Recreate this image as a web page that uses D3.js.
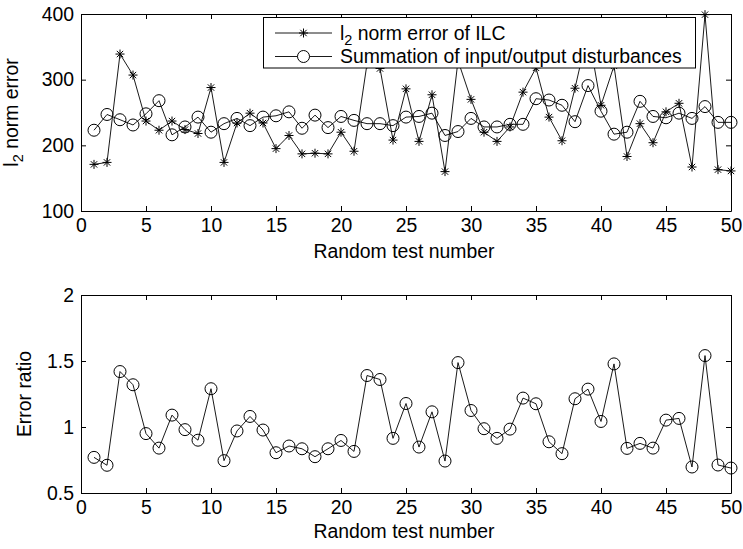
<!DOCTYPE html>
<html>
<head>
<meta charset="utf-8">
<script src="https://cdnjs.cloudflare.com/ajax/libs/d3/7.8.5/d3.min.js"></script>
<style>
  html, body { margin: 0; padding: 0; background: #fff; }
  svg { display: block; }
  text { font-family: "Liberation Sans", Arial, Helvetica, sans-serif; fill: #000; }
</style>
</head>
<body>
<script>
// ---------- data ----------
const testNumbers = d3.range(1, 51);
const ilcError = [171, 174, 339, 307, 237, 223, 237, 224, 218, 288,
                  174, 234, 249, 234, 195, 215, 187, 188, 187, 220,
                  191, 324, 317, 208, 286, 206, 277, 160, 329, 270,
                  220, 206, 228, 281, 318, 243, 207, 287, 374, 261,
                  321, 183, 233, 204, 251, 264, 167, 399, 163, 161];
const disturbanceSum = [223, 247, 239, 231, 248, 268, 216, 228, 243, 220,
                        233, 241, 230, 243, 245, 251, 226, 246, 227, 244,
                        238, 233, 233, 230, 243, 244, 249, 215, 221, 241,
                        228, 228, 232, 232, 271, 269, 261, 236, 291, 252,
                        217, 220, 267, 244, 242, 249, 241, 259, 235, 235];
const errorRatio = [0.77, 0.71, 1.42, 1.32, 0.95, 0.84, 1.09, 0.98, 0.90, 1.29,
                    0.745, 0.97, 1.08, 0.977, 0.805, 0.856, 0.835, 0.775, 0.835, 0.898,
                    0.815, 1.39, 1.36, 0.914, 1.178, 0.848, 1.115, 0.742, 1.488, 1.125,
                    0.987, 0.914, 0.984, 1.219, 1.176, 0.888, 0.798, 1.214, 1.287, 1.042,
                    1.478, 0.838, 0.876, 0.840, 1.052, 1.065, 0.697, 1.541, 0.712, 0.689];
const xTicks = [0, 5, 10, 15, 20, 25, 30, 35, 40, 45, 50];
const topYTicks = [100, 200, 300, 400];
const bottomYTicks = [0.5, 1, 1.5, 2];
const bottomYTickLabels = ["0.5", "1", "1.5", "2"];
const xLabel = "Random test number";
const legendLabels = ["norm error of ILC", "Summation of input/output disturbances"];

// ---------- layout ----------
const W = 743, H = 549;
const FS = 19.4;
const svg = d3.select("body").append("svg").attr("width", W).attr("height", H);

const x = d3.scaleLinear().domain([0, 50]).range([81, 731]);
const yTop = d3.scaleLinear().domain([100, 400]).range([211, 14]);
const yBot = d3.scaleLinear().domain([0.5, 2]).range([493, 295]);

function drawAxes(y, yTicks, yFmt) {
  const [y0, y1] = y.range();
  const g = svg.append("g");
  const style = sel => {
    sel.selectAll("path.domain").attr("stroke", "#000").attr("stroke-width", 1);
    sel.selectAll(".tick line").attr("stroke", "#000").attr("stroke-width", 1);
    sel.selectAll("text").style("font-size", FS + "px").attr("fill", "#000")
       .style("font-family", '"Liberation Sans", Arial, sans-serif');
  };
  g.append("g").attr("transform", `translate(0,${y0})`)
    .call(d3.axisBottom(x).tickValues(xTicks).tickSizeInner(-5).tickSizeOuter(0).tickPadding(7.5))
    .call(style);
  g.append("g").attr("transform", `translate(0,${y1})`)
    .call(d3.axisTop(x).tickValues(xTicks).tickSizeInner(-5).tickSizeOuter(0).tickFormat(""))
    .call(style);
  g.append("g").attr("transform", `translate(${x.range()[0]},0)`)
    .call(d3.axisLeft(y).tickValues(yTicks).tickSizeInner(-5).tickSizeOuter(0).tickPadding(7).tickFormat(yFmt))
    .call(style);
  g.append("g").attr("transform", `translate(${x.range()[1]},0)`)
    .call(d3.axisRight(y).tickValues(yTicks).tickSizeInner(-5).tickSizeOuter(0).tickFormat(""))
    .call(style);
  g.selectAll("path.domain").attr("fill", "none");
  g.selectAll(".tick text").attr("fill", "#000");
}

const starPath = (r) => {
  const d = r * 0.7071;
  return `M${-r},0L${r},0M0,${-r}L0,${r}M${-d},${-d}L${d},${d}M${-d},${d}L${d},${-d}`;
};

function drawSeries(y, vals, marker) {
  const line = d3.line().x((d, i) => x(testNumbers[i])).y(d => y(d));
  const g = svg.append("g");
  g.append("path").datum(vals).attr("d", line)
    .attr("fill", "none").attr("stroke", "#000").attr("stroke-width", 0.9);
  if (marker === "star") {
    g.selectAll("path.m").data(vals).join("path").attr("class", "m")
      .attr("transform", (d, i) => `translate(${x(testNumbers[i])},${y(d)})`)
      .attr("d", starPath(4.5)).attr("stroke", "#000").attr("stroke-width", 1).attr("fill", "none");
  } else {
    g.selectAll("circle").data(vals).join("circle")
      .attr("cx", (d, i) => x(testNumbers[i])).attr("cy", d => y(d)).attr("r", 6)
      .attr("fill", "none").attr("stroke", "#000").attr("stroke-width", 1);
  }
}

// ---------- top plot ----------
drawAxes(yTop, topYTicks, d3.format("d"));
drawSeries(yTop, ilcError, "star");
drawSeries(yTop, disturbanceSum, "circle");

// legend
const lg = svg.append("g");
lg.append("rect").attr("x", 263.5).attr("y", 17.5).attr("width", 432).attr("height", 50.5)
  .attr("fill", "#fff").attr("stroke", "#000").attr("stroke-width", 1);
const rows = [33, 56.5];
rows.forEach((ry, k) => {
  lg.append("line").attr("x1", 275).attr("x2", 332).attr("y1", ry).attr("y2", ry)
    .attr("stroke", "#000").attr("stroke-width", 0.9);
  if (k === 0) {
    lg.append("path").attr("transform", `translate(303.5,${ry})`).attr("d", starPath(4.5))
      .attr("stroke", "#000").attr("fill", "none");
  } else {
    lg.append("circle").attr("cx", 303.5).attr("cy", ry).attr("r", 6)
      .attr("fill", "#fff").attr("stroke", "#000");
  }
});
const t1 = lg.append("text").attr("x", 340).attr("y", rows[0] + 6.5).style("font-size", FS + "px");
t1.append("tspan").text("l");
t1.append("tspan").attr("dy", 5).style("font-size", "14.5px").text("2");
t1.append("tspan").attr("dy", -5).text(" " + legendLabels[0]);
lg.append("text").attr("x", 340).attr("y", rows[1] + 6.5).style("font-size", FS + "px").text(legendLabels[1]);

// labels top
svg.append("text").attr("x", 404).attr("y", 258).attr("text-anchor", "middle")
  .style("font-size", FS + "px").text(xLabel);
const yl = svg.append("text").attr("transform", `translate(18,112.5) rotate(-90)`)
  .attr("text-anchor", "middle").style("font-size", FS + "px");
yl.append("tspan").text("l");
yl.append("tspan").attr("dy", 5).style("font-size", "14.5px").text("2");
yl.append("tspan").attr("dy", -5).text(" norm error");

// ---------- bottom plot ----------
drawAxes(yBot, bottomYTicks, (d, i) => bottomYTickLabels[bottomYTicks.indexOf(d)]);
drawSeries(yBot, errorRatio, "circle");

svg.append("text").attr("x", 404).attr("y", 538).attr("text-anchor", "middle")
  .style("font-size", FS + "px").text(xLabel);
svg.append("text").attr("transform", `translate(31,394) rotate(-90)`)
  .attr("text-anchor", "middle").style("font-size", FS + "px").text("Error ratio");
</script>
</body>
</html>
